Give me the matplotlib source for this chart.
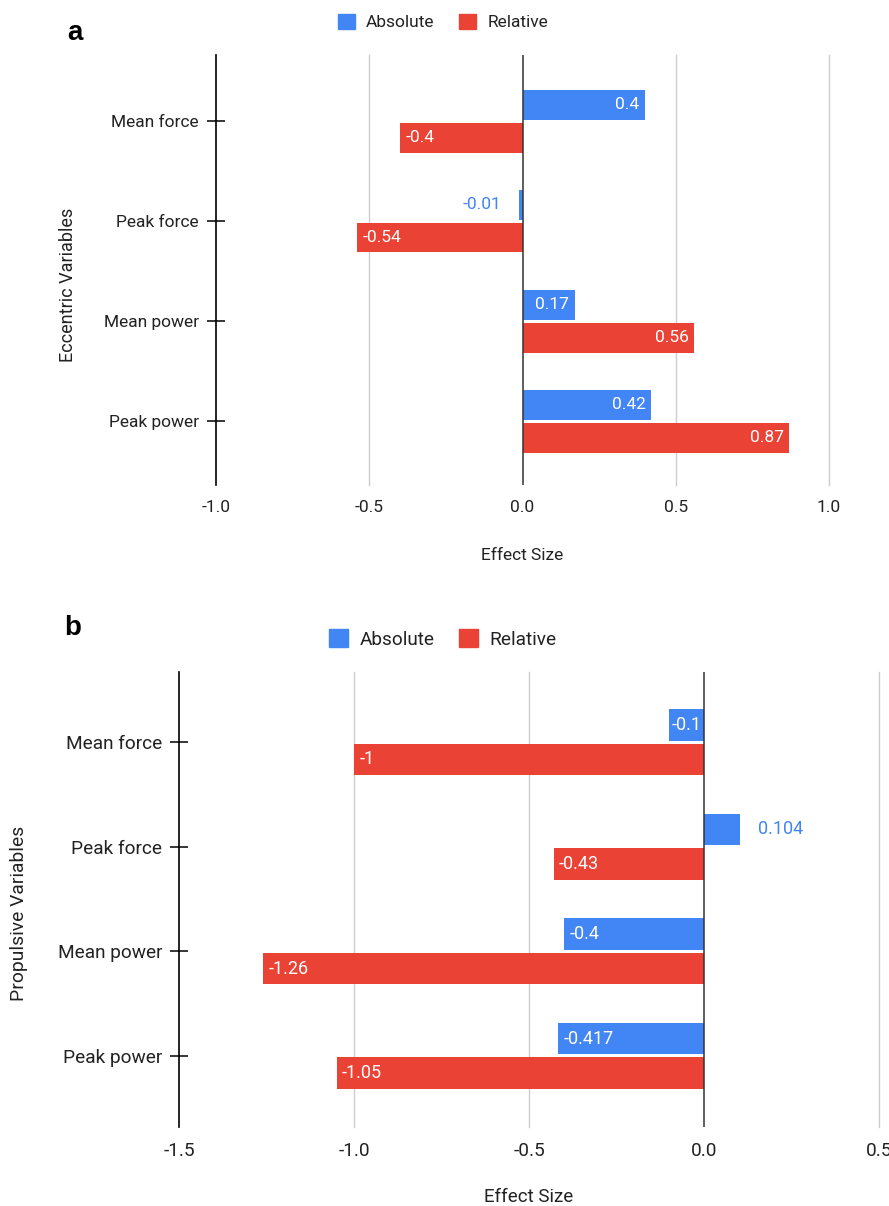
import numpy as np
import matplotlib
matplotlib.use("Agg")
from matplotlib import pyplot as plt
from matplotlib.patches import Patch

plt.rcParams["font.family"] = ["Roboto", "DejaVu Sans"]
plt.rcParams["axes.unicode_minus"] = False

categories   = ["Mean force", "Peak force", "Mean power", "Peak power"]
series_names = ["Absolute", "Relative"]

ecc_absolute = [0.4, -0.01, 0.17, 0.42]
ecc_relative = [-0.4, -0.54, 0.56, 0.87]
ecc_ticks    = [-1.0, -0.5, 0.0, 0.5, 1.0]

prop_absolute = [-0.1, 0.104, -0.4, -0.417]
prop_relative = [-1, -0.43, -1.26, -1.05]
prop_ticks    = [-1.5, -1.0, -0.5, 0.0, 0.5]

BLUE, RED, TXT = "#4285F4", "#EA4335", "#222222"
W, H = 889, 1206
fig = plt.figure(figsize=(W/100, H/100), dpi=100)


def px_axes(left, right, top, bottom):
    return fig.add_axes([left/W, 1 - bottom/H, (right-left)/W, (bottom-top)/H])


def panel(ax, absolute, relative, ticks, ylim, fs):
    y = np.arange(len(categories))
    bars = []
    for vals, off, col in ((absolute, -0.165, BLUE), (relative, 0.165, RED)):
        ax.barh(y + off, vals, height=0.3, color=col, zorder=2)
        bars.append((vals, off, col))
    ax.set_xlim(ticks[0], ticks[-1])
    ax.set_ylim(ylim)
    ax.set_xticks(ticks)
    ax.set_xticklabels([f"{t:.1f}" for t in ticks])
    ax.set_yticks(y)
    ax.set_yticklabels(categories)
    for s in ("top", "right", "bottom"):
        ax.spines[s].set_visible(False)
    ax.spines["left"].set_color("black")
    ax.spines["left"].set_linewidth(1.2)
    ax.spines["left"].set_zorder(3)
    for t in ticks[1:]:
        if t == 0:
            ax.axvline(0, color="#333333", linewidth=1.1, zorder=3)
        else:
            ax.axvline(t, color="#CCCCCC", linewidth=1, zorder=0, clip_on=False)
    ax.tick_params(axis="x", length=0, pad=11, labelsize=fs, labelcolor=TXT)
    ax.tick_params(axis="y", direction="inout", length=13, width=1.1, color="black",
                   pad=5.7, labelsize=fs, labelcolor=TXT)
    return bars


def value_labels(ax, bars, fs):
    fig.canvas.draw()
    r = fig.canvas.get_renderer()
    x0, x1 = ax.get_xlim()
    px_per_unit = ax.get_window_extent(r).width / (x1 - x0)
    y = np.arange(len(categories))
    for vals, off, col in bars:
        for yi, v in zip(y, vals):
            s = f"{v:g}"
            t = ax.text(0, 0, s, fontsize=fs)
            tw = t.get_window_extent(r).width
            t.remove()
            bw = abs(v) * px_per_unit
            sign = 1 if v >= 0 else -1
            if tw + 2 <= bw:
                pad = min(4.0, max(1.5, (bw - tw) / 2 * 0.72))
                dx, c = -sign * pad, "white"
            else:
                dx, c = sign * 13, col
            ha = "right" if dx < 0 else "left"
            ax.annotate(s, xy=(v, yi + off), xytext=(dx, 0), textcoords="offset points",
                        ha=ha, va="center", fontsize=fs, color=c, zorder=4)


handles = [Patch(facecolor=BLUE, edgecolor=BLUE), Patch(facecolor=RED, edgecolor=RED)]

# panel a
ax_a = px_axes(216, 829, 55, 485)
bars_a = panel(ax_a, ecc_absolute, ecc_relative, ecc_ticks, (3.64, -0.66), 12.5)
fig.text(67/W, 1 - 33/H, "a", fontsize=20, fontweight="bold", family="Liberation Sans",
         ha="left", va="center")
fig.legend(handles, series_names, loc="center", bbox_to_anchor=(443/W, 1 - 22/H), ncol=2,
           frameon=False, fontsize=12.5, handlelength=1.0, handleheight=1.0,
           handletextpad=0.65, columnspacing=1.4, labelcolor=TXT)
fig.text(68/W, 1 - 285/H, "Eccentric Variables", rotation=90, fontsize=13, color=TXT,
         ha="center", va="center")
fig.text(522/W, 1 - 556/H, "Effect Size", fontsize=12.5, color=TXT, ha="center", va="center")

# panel b
ax_b = px_axes(179, 879, 672, 1127)
bars_b = panel(ax_b, prop_absolute, prop_relative, prop_ticks, (3.68, -0.67), 13.7)
fig.text(64/W, 1 - 628/H, "b", fontsize=20, fontweight="bold", family="Liberation Sans",
         ha="left", va="center")
fig.legend(handles, series_names, loc="center", bbox_to_anchor=(443/W, 1 - 639/H), ncol=2,
           frameon=False, fontsize=13.7, handlelength=1.0, handleheight=1.0,
           handletextpad=0.6, columnspacing=1.3, labelcolor=TXT)
fig.text(19/W, 1 - 913/H, "Propulsive Variables", rotation=90, fontsize=13.9, color=TXT,
         ha="center", va="center")
fig.text(529/W, 1 - 1197/H, "Effect Size", fontsize=13.5, color=TXT, ha="center", va="center")

value_labels(ax_a, bars_a, 12.5)
value_labels(ax_b, bars_b, 13)

fig.savefig("out.png", dpi=100)
